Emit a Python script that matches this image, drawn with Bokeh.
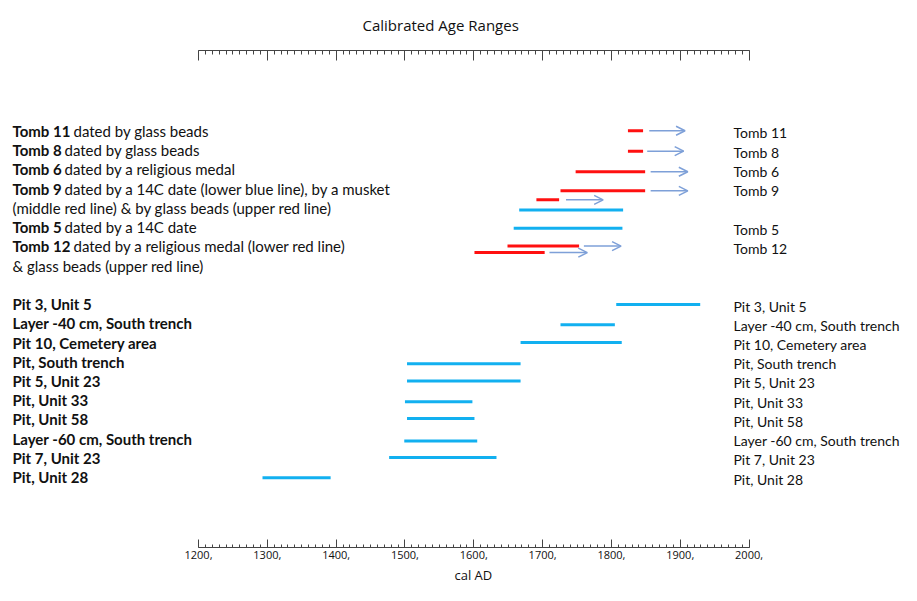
from bokeh.plotting import figure
from bokeh.models import (ColumnDataSource, Range1d, LinearAxis, FixedTicker,
                          CustomJSTickFormatter, LabelSet, Arrow, OpenHead, Title)
from bokeh.core.properties import value
from bokeh.embed import file_html
from bokeh.resources import INLINE

# ---------------- data ----------------
# left-hand descriptions (bold part, normal part), one per text line (slot)
left_slots = [0, 1, 2, 3, 4, 5, 6, 7]
left_bold = ["Tomb 11", "Tomb 8", "Tomb 6", "Tomb 9", "", "Tomb 5", "Tomb 12", ""]
left_rest = ["dated by glass beads",
             "dated by glass beads",
             "dated by a religious medal",
             "dated by a 14C date (lower blue line), by a musket",
             "(middle red line) & by glass beads (upper red line)",
             "dated by a 14C date",
             "dated by a religious medal (lower red line)",
             "& glass beads (upper red line)"]
pit_slots = [9, 10, 11, 12, 13, 14, 15, 16, 17, 18]
pit_names = ["Pit 3, Unit 5", "Layer -40 cm, South trench", "Pit 10, Cemetery area",
             "Pit, South trench", "Pit 5, Unit 23", "Pit, Unit 33", "Pit, Unit 58",
             "Layer -60 cm, South trench", "Pit 7, Unit 23", "Pit, Unit 28"]
right_names = ["Tomb 11", "Tomb 8", "Tomb 6", "Tomb 9", "Tomb 5", "Tomb 12"] + pit_names
right_slots = [0, 1, 2, 3, 5, 6] + pit_slots

# red ranges (artefact datings): start, end, row position
red_start = [1824, 1824, 1748, 1726, 1691, 1649, 1601]
red_end   = [1846, 1846, 1849, 1849, 1724, 1753, 1703]
red_row   = [0.0, 1.06, 2.13, 3.12, 3.59, 5.99, 6.33]
# open-ended continuation (arrows)
arr_start = [1855, 1852, 1857, 1857, 1734, 1760, 1710]
arr_end   = [1907, 1905, 1911, 1911, 1788, 1814, 1765]
# blue ranges (14C calibrated)
blue_start = [1666, 1658, 1807, 1726, 1668, 1503, 1503, 1500, 1503, 1499, 1477, 1293]
blue_end   = [1817, 1816, 1929, 1805, 1815, 1668, 1668, 1598, 1601, 1605, 1633, 1392]
blue_row   = [4.11, 5.07, 9.03, 10.08, 11.0, 12.11, 13.0, 14.08, 14.95, 16.12, 16.97, 18.02]

ticks_major = list(range(1200, 2001, 100))
ticks_minor = list(range(1200, 2001, 10))

FONT = "Lato"
FONT2 = "Open Sans"

p = figure(width=901, height=585, output_backend="svg", toolbar_location=None,
           x_range=Range1d(912.3, 2221.5), y_range=Range1d(21.65, -4.17),
           x_axis_type=None, y_axis_type=None, min_border=0,
           min_border_left=0, min_border_right=0)
p.outline_line_color = None
p.grid.visible = False
p.background_fill_color = "white"

p.title.text = "Calibrated Age Ranges"
p.title.align = "left"
p.title.offset = 362
p.title.vertical_align = "top"
p.title.text_font = FONT2
p.title.text_font_size = "15px"
p.title.text_font_style = "normal"
p.title.text_color = "#111111"
p.title.standoff = 28

def style_axis(ax, tin, tmin):
    ax.bounds = (1200, 2000)
    ax.ticker = FixedTicker(ticks=ticks_major, minor_ticks=ticks_minor)
    ax.axis_line_color = "#444444"
    ax.major_tick_line_color = "#444444"
    ax.minor_tick_line_color = "#444444"
    ax.major_tick_in = tin
    ax.major_tick_out = 0
    ax.minor_tick_in = tmin
    ax.minor_tick_out = 0

top = LinearAxis()
style_axis(top, 10, 4)
top.formatter = CustomJSTickFormatter(code="return ''")
top.major_label_standoff = 0
top.major_label_text_font_size = "1px"
p.add_layout(top, "above")

bot = LinearAxis()
style_axis(bot, 8, 3)
bot.formatter = CustomJSTickFormatter(code="return tick + ','")
bot.major_label_text_font = FONT2
bot.major_label_text_font_size = "11px"
bot.major_label_text_color = "#111111"
bot.major_label_standoff = 3
p.add_layout(bot, "below")

p.add_layout(Title(text="cal AD", align="left", offset=454, text_font=FONT2,
                   text_font_size="13px", text_font_style="normal",
                   text_color="#111111", standoff=4), "below")

# ranges
p.segment(x0=blue_start, x1=blue_end, y0=blue_row, y1=blue_row,
          line_color="#12B0F0", line_width=3)
p.segment(x0=red_start, x1=red_end, y0=red_row, y1=red_row,
          line_color="#FF1010", line_width=3)
asrc = ColumnDataSource(dict(x0=arr_start, x1=arr_end, y=red_row))
p.add_layout(Arrow(end=OpenHead(size=9, line_color="#7EA0D8", line_width=1.5),
                   x_start="x0", y_start="y", x_end="x1", y_end="y", source=asrc,
                   line_color="#7EA0D8", line_width=1.5))

# texts
bold_src = ColumnDataSource(dict(y=left_slots, t=left_bold))
p.add_layout(LabelSet(x=12, y="y", x_units="screen", text="t", source=bold_src,
                      text_font=value(FONT), text_font_size="15px", text_font_style="bold",
                      text_baseline="middle", text_color="#111111"))
rest_x = [73, 64, 64, 64, 12, 64, 73, 12]
rest_src = ColumnDataSource(dict(x=rest_x, y=left_slots, t=left_rest))
p.add_layout(LabelSet(x="x", y="y", x_units="screen", text="t", source=rest_src,
                      text_font=value(FONT), text_font_size="15px",
                      text_baseline="middle", text_color="#111111"))
pit_src = ColumnDataSource(dict(y=pit_slots, t=pit_names))
p.add_layout(LabelSet(x=12, y="y", x_units="screen", text="t", source=pit_src,
                      text_font=value(FONT), text_font_size="15px", text_font_style="bold",
                      text_baseline="middle", text_color="#111111"))
right_src = ColumnDataSource(dict(y=right_slots, t=right_names))
p.add_layout(LabelSet(x=733, y="y", x_units="screen", y_offset=-2, text="t", source=right_src,
                      text_font=value(FONT), text_font_size="14px",
                      text_baseline="middle", text_color="#111111"))

open("out.html", "w").write(file_html(p, INLINE))
